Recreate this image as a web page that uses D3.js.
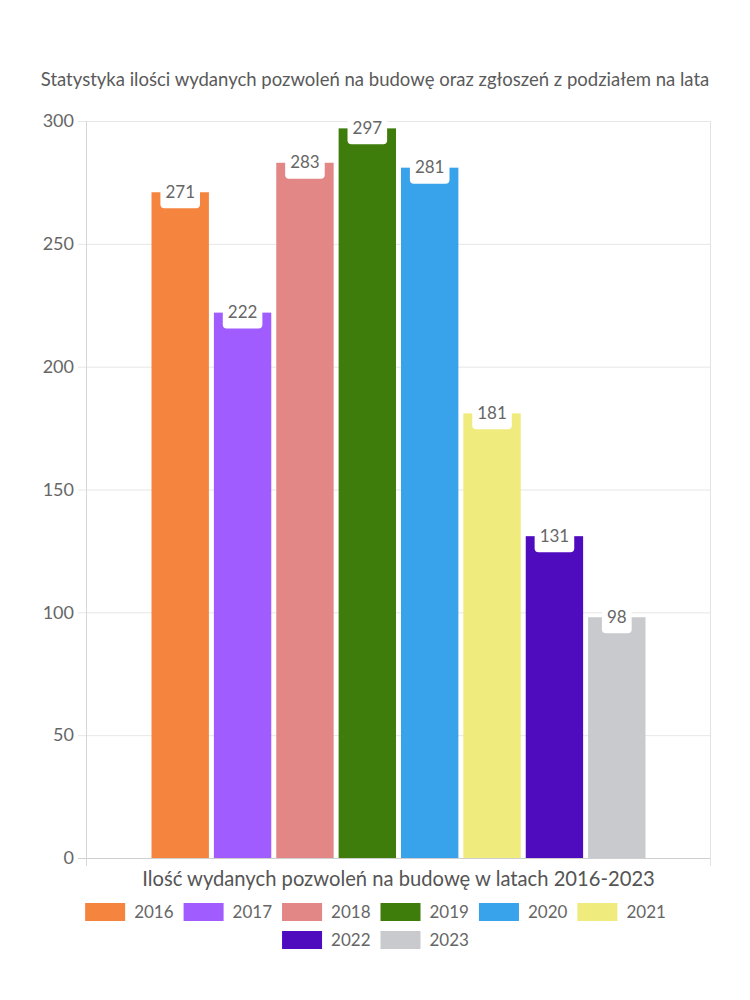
<!DOCTYPE html>
<html><head><meta charset="utf-8">
<script src="https://cdn.jsdelivr.net/npm/d3@7"></script>
<style>body{margin:0;background:#fff}svg{display:block}</style>
</head><body>
<svg id="c" width="750" height="1000"></svg>
<script>
const years = ["2016","2017","2018","2019","2020","2021","2022","2023"];
const values = [271,222,283,297,281,181,131,98];
const colors = ["#F5843F","#A05CFF","#E28686","#3E7C0C","#38A3EA","#F0EB7D","#4F0CBF","#C9CACE"];
const yTicks = [0,50,100,150,200,250,300];
const title = "Statystyka ilości wydanych pozwoleń na budowę oraz zgłoszeń z podziałem na lata";
const xTitle = "Ilość wydanych pozwoleń na budowę w latach 2016-2023";

const FONT = "Lato, 'Noto Sans', sans-serif";
const svg = d3.select("#c");
const L = 87, R = 710, T = 121, B = 858;

const y = d3.scaleLinear().domain([0,300]).range([B,T]);
const x0 = d3.scaleBand().domain([""]).range([L,R]).paddingOuter(0.1306).paddingInner(0);
const x1 = d3.scaleBand().domain(years).range([0,x0.bandwidth()]).paddingInner(0.08).paddingOuter(0);

// title
const tt = svg.append("text").attr("x",375).attr("y",86).attr("text-anchor","middle")
  .attr("fill","#5a5a5a").style("font-family",FONT).style("font-size","16px").text(title);
function fit(sel, w){ const cur = sel.node().getComputedTextLength(); const fs = parseFloat(sel.style("font-size")); sel.style("font-size",(fs*w/cur)+"px"); }
fit(tt, 669);

// grid
svg.append("g").selectAll("line").data(yTicks).join("line")
  .attr("x1",L-9).attr("x2",R).attr("y1",d=>y(d)+0.5).attr("y2",d=>y(d)+0.5)
  .attr("stroke",d=>d===0?"#cfcfcf":"#e6e6e6").attr("stroke-width",1);
// axis lines
svg.append("line").attr("x1",L-0.5).attr("x2",L-0.5).attr("y1",T).attr("y2",B+8).attr("stroke","#d6d6d6");
svg.append("line").attr("x1",R+0.5).attr("x2",R+0.5).attr("y1",T).attr("y2",B+8).attr("stroke","#e2e2e2");

// y tick labels
svg.append("g").selectAll("text").data(yTicks).join("text")
  .attr("x",74).attr("y",d=>y(d)).attr("dy","0.35em").attr("text-anchor","end")
  .attr("fill","#666").style("font-family",FONT).style("font-size","18px").text(d=>d);

// bars
const g = svg.append("g").attr("transform",`translate(${x0("")},0)`);
g.selectAll("rect.bar").data(years).join("rect").attr("class","bar")
  .attr("x",d=>x1(d)).attr("width",x1.bandwidth())
  .attr("y",(d,i)=>y(values[i])).attr("height",(d,i)=>B-y(values[i]))
  .attr("fill",(d,i)=>colors[i]);

// labels
const lab = g.selectAll("g.lab").data(years).join("g").attr("class","lab")
  .attr("transform",(d,i)=>`translate(${x1(d)+x1.bandwidth()/2},${y(values[i])})`);
lab.append("text").attr("y",0).attr("dy","0.33em").attr("text-anchor","middle")
  .attr("fill","#666").style("font-family",FONT).style("font-size","17px").text((d,i)=>values[i]);
lab.each(function(){
  const gg = d3.select(this); const w = gg.select("text").node().getComputedTextLength()+10;
  gg.insert("rect","text").attr("x",-w/2).attr("y",-16).attr("width",w).attr("height",32).attr("rx",4).attr("fill","#fff");
});

// x title
const xt = svg.append("text").attr("x",398.5).attr("y",886).attr("text-anchor","middle")
  .attr("fill","#555").style("font-family",FONT).style("font-size","17px").text(xTitle);
fit(xt, 513);

// legend
const rows = [years.slice(0,6), years.slice(6)];
const fs = 17;
rows.forEach((row,ri)=>{
  const lg = svg.append("g");
  let cx = 0;
  row.forEach(yr=>{
    const i = years.indexOf(yr);
    const it = lg.append("g").attr("transform",`translate(${cx},0)`);
    it.append("rect").attr("x",0).attr("y",-9).attr("width",40).attr("height",18).attr("fill",colors[i]);
    const t = it.append("text").attr("x",49).attr("y",0).attr("dy","0.35em").attr("fill","#666")
      .style("font-family",FONT).style("font-size",fs+"px").text(yr);
    cx += 49 + t.node().getComputedTextLength() + 10;
  });
  const tw = cx - 10;
  lg.attr("transform",`translate(${375.5 - tw/2},${912 + ri*28})`);
});
</script>
</body></html>
